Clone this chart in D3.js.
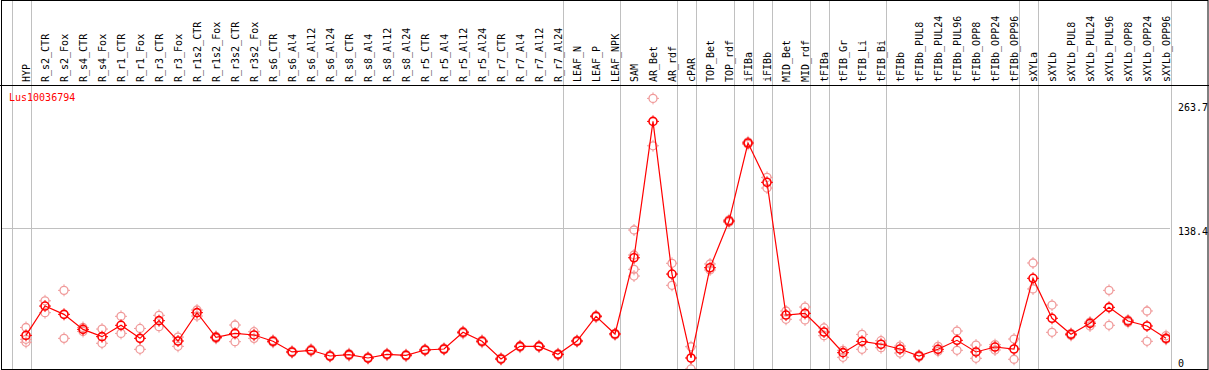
<!DOCTYPE html>
<html>
<head>
<meta charset="utf-8">
<script src="https://cdn.jsdelivr.net/npm/d3@7"></script>
<style>
  html, body { margin: 0; padding: 0; background: #fff; }
  svg { display: block; font-family: "DejaVu Sans Mono", monospace; }
</style>
</head>
<body>
<div id="chart"></div>
<script>
// Data
const title = "Lus10036794";
const categories = ["HYP","R_s2_CTR","R_s2_Fox","R_s4_CTR","R_s4_Fox","R_r1_CTR","R_r1_Fox","R_r3_CTR","R_r3_Fox",
  "R_r1s2_CTR","R_r1s2_Fox","R_r3s2_CTR","R_r3s2_Fox","R_s6_CTR","R_s6_Al4","R_s6_Al12","R_s6_Al24",
  "R_s8_CTR","R_s8_Al4","R_s8_Al12","R_s8_Al24","R_r5_CTR","R_r5_Al4","R_r5_Al12","R_r5_Al24",
  "R_r7_CTR","R_r7_Al4","R_r7_Al12","R_r7_Al24","LEAF_N","LEAF_P","LEAF_NPK","SAM","AR_Bet","AR_rdf",
  "cPAR","TOP_Bet","TOP_rdf","iFIBa","iFIBb","MID_Bet","MID_rdf","tFIBa","tFIB_Gr","tFIB_Li","tFIB_Bi",
  "tFIBb","tFIBb_PUL8","tFIBb_PUL24","tFIBb_PUL96","tFIBb_OPP8","tFIBb_OPP24","tFIBb_OPP96",
  "sXYLa","sXYLb","sXYLb_PUL8","sXYLb_PUL24","sXYLb_PUL96","sXYLb_OPP8","sXYLb_OPP24","sXYLb_OPP96"];

const means = [30,59.7,51.3,36.1,28.7,40.2,27,44.9,24.3,53,28,32,30.4,24,13.2,14.9,9.1,10.5,7.1,10.8,9.8,
  15.2,16.2,33.1,24,6.1,18.9,18.9,10.8,24.3,49.3,31.4,108.6,246.7,92.1,7.1,98.5,145.8,224.8,185,50.6,
  52.3,33.4,12.5,24,21,16.2,9.1,15.9,25,13.2,18.2,16.2,87.8,47.3,31.1,42.2,58.4,44.5,39.5,27];

const replicates = [
  [38,26,23],[65,53],[75.6,27],[38,34],[36.4,22],[49.3,32],[37,15.9],[50.3,38.8],[28.3,18.9],
  [55.7,49.6],[29,27],[40.5,23.6],[33.7,27],[25,23],[14,12.5],[16,14],[10,8.5],
  [11.5,9.5],[8,6.5],[11.5,10],[10.5,9],[16,14.5],[17,15.5],[34,32],[25,23],
  [7,5.5],[19.5,18],[19.5,18.2],[11.5,10],[25,23.5],[50,48.5],[32,30.5],[136.7,111.4,96.9,90.1],[270,222],[103,80.7],
  [18.5,-4],[102.3,96.2],[147,144.5],[226,223.5],[190,179.2],[54.7,46.3],[58.7,45.6],[37.5,29.7],[14.9,7.8],[31,15.9],[24.6,17.5],
  [19.2,12.1],[10,8.2],[18.9,13.9],[34.4,14.9],[20.2,6.8],[20.6,15.2],[26.3,5.8],
  [103.3,77],[60.7,33.1],[32,30],[43.5,39.5],[75.6,40.2],[45.6,43.2],[54.7,24],[29.7,26]];

const groupEnds = ["HYP","R_r7_Al24","LEAF_NPK","AR_rdf","cPAR","TOP_rdf","iFIBa","iFIBb","MID_rdf",
  "tFIBa","tFIB_Bi","tFIBb_OPP96","sXYLa","sXYLb_OPP96"];
const yTicks = [0, 138.4, 263.7];

// Layout
const width = 1209, height = 370;
const labelBottom = 85, plotBottom = 369, plotRight = 1170;
const red = "#ff0000", pink = "#f09a9a", grey = "#c0c0c0";

const svg = d3.select("#chart").append("svg")
  .attr("width", width).attr("height", height)
  .attr("viewBox", `0 0 ${width} ${height}`);

// Scales
const xScale = d3.scalePoint().domain(categories).range([26, 26 + 19 * (categories.length - 1)]);
const step = xScale.step();
const yScale = d3.scaleLinear().domain([0, 263.7]).range([365, 104.6]);

// Clip for the data area
svg.append("clipPath").attr("id", "plot-clip")
  .append("rect").attr("x", 1).attr("y", labelBottom).attr("width", plotRight - 1).attr("height", plotBottom - labelBottom);

// Horizontal gridline
svg.append("line")
  .attr("x1", 1).attr("x2", plotRight)
  .attr("y1", Math.round(yScale(138.4)) + 0.5).attr("y2", Math.round(yScale(138.4)) + 0.5)
  .attr("stroke", grey);

// Group separators
const sepX = [xScale(categories[0]) - step + 4.7, ...groupEnds.map(c => xScale(c) + 4.7)];
svg.selectAll(".sep").data(sepX).join("line")
  .attr("class", "sep")
  .attr("x1", d => Math.round(d) + 0.5).attr("x2", d => Math.round(d) + 0.5)
  .attr("y1", 0).attr("y2", height)
  .attr("stroke", grey);

// Category labels
svg.selectAll(".cat").data(categories).join("text")
  .attr("class", "cat")
  .attr("transform", d => `translate(${xScale(d) + 3.5}, 82) rotate(-90)`)
  .attr("font-size", "10px")
  .attr("fill", "#000")
  .text(d => d);

// Marker drawing
const drawMarker = (g, color, sw) => {
  g.append("circle").attr("r", 4).attr("fill", "none").attr("stroke", color).attr("stroke-width", sw);
  [[0, -1], [0, 1], [-1, 0], [1, 0]].forEach(([dx, dy]) => {
    g.append("line")
      .attr("x1", dx * 4).attr("y1", dy * 4)
      .attr("x2", dx * 6).attr("y2", dy * 6)
      .attr("stroke", color).attr("stroke-width", 1);
  });
};

const plot = svg.append("g").attr("clip-path", "url(#plot-clip)");

// Replicates
const repPoints = [];
categories.forEach((c, i) => replicates[i].forEach(v => repPoints.push({ c, v })));
plot.selectAll(".rep").data(repPoints).join("g")
  .attr("class", "rep")
  .attr("transform", d => `translate(${xScale(d.c)}, ${yScale(d.v)})`)
  .each(function () { drawMarker(d3.select(this), pink, 1.3); });

// Mean line
const meanData = categories.map((c, i) => ({ c, v: means[i] }));
const lineGen = d3.line().x(d => xScale(d.c)).y(d => yScale(d.v));
plot.append("path")
  .attr("d", lineGen(meanData))
  .attr("fill", "none").attr("stroke", red).attr("stroke-width", 1.2);

// Mean markers
plot.selectAll(".mean").data(meanData).join("g")
  .attr("class", "mean")
  .attr("transform", d => `translate(${xScale(d.c)}, ${yScale(d.v)})`)
  .each(function () { drawMarker(d3.select(this), red, 1.6); });

// Right axis labels
const rightAxis = d3.axisRight(yScale).tickValues(yTicks).tickSize(0).tickPadding(0)
  .tickFormat(d => d === 0 ? "0" : d3.format(".1f")(d));
const axisG = svg.append("g").attr("transform", `translate(1178, 0)`).call(rightAxis);
axisG.select(".domain").remove();
axisG.selectAll("text")
  .attr("font-family", "DejaVu Sans Mono, monospace")
  .attr("font-size", "10px")
  .attr("fill", "#000")
  .attr("dy", d => d === 0 ? "0.1em" : "0.6em");

// Title
svg.append("text")
  .attr("x", 9).attr("y", 101)
  .attr("font-size", "10px").attr("fill", red)
  .text(title);

// Frame
svg.append("rect").attr("x", 1.5).attr("y", 0.5).attr("width", width - 2.5).attr("height", plotBottom)
  .attr("fill", "none").attr("stroke", "#000");
svg.append("line").attr("x1", 0).attr("x2", width).attr("y1", labelBottom + 0.5).attr("y2", labelBottom + 0.5)
  .attr("stroke", "#000");
</script>
</body>
</html>
